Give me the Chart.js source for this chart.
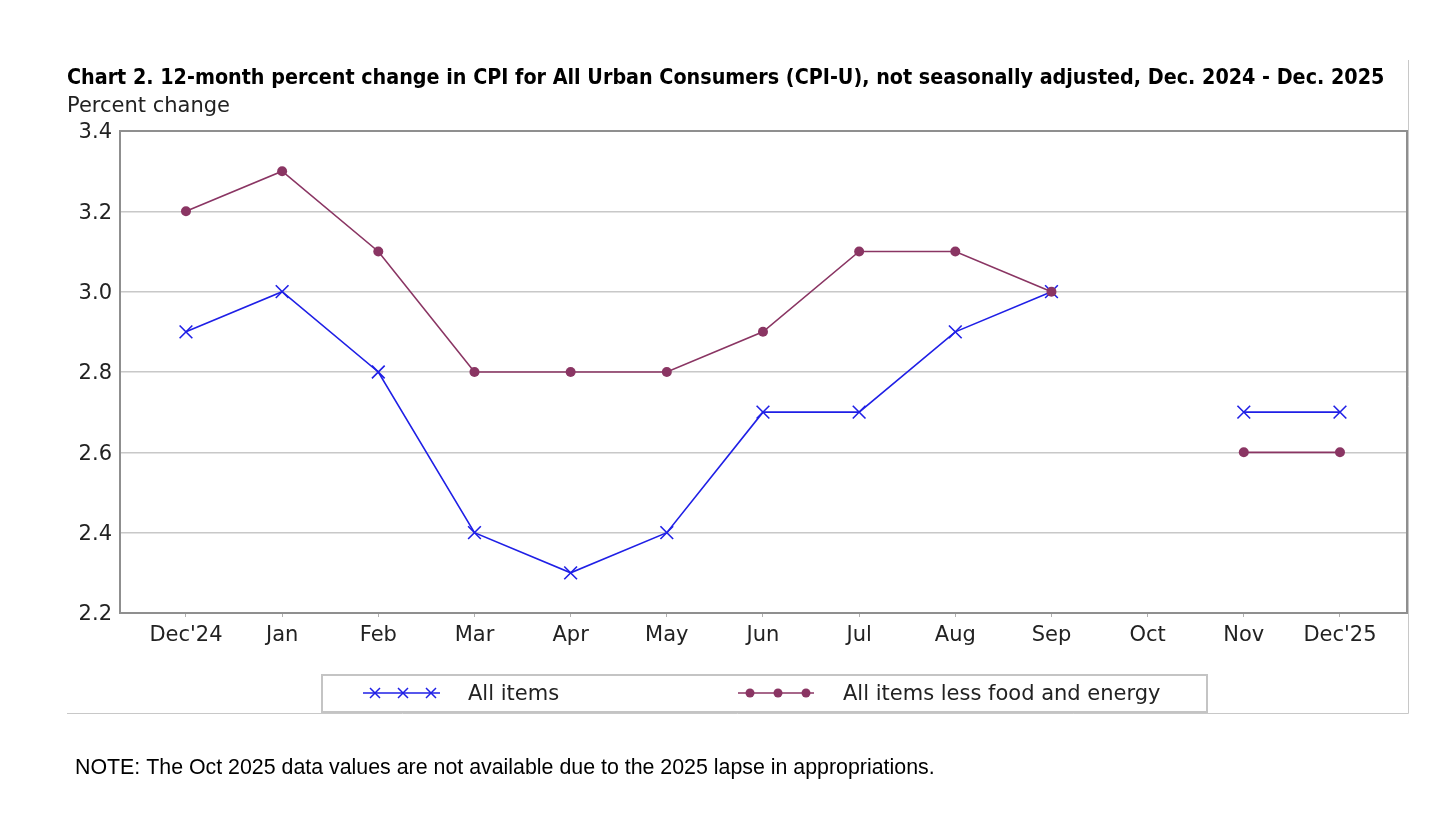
<!DOCTYPE html>
<html>
<head>
<meta charset="utf-8">
<script src="https://cdn.jsdelivr.net/npm/chart.js@4.4.1/dist/chart.umd.min.js"></script>
<style>
html,body{margin:0;padding:0;background:#fff;}
canvas{display:block;}
</style>
</head>
<body>
<canvas id="c" width="1449" height="840"></canvas>
<script>
const categories = ["Dec'24","Jan","Feb","Mar","Apr","May","Jun","Jul","Aug","Sep","Oct","Nov","Dec'25"];
const allItems   = [2.9, 3.0, 2.8, 2.4, 2.3, 2.4, 2.7, 2.7, 2.9, 3.0, null, 2.7, 2.7];
const coreItems  = [3.2, 3.3, 3.1, 2.8, 2.8, 2.8, 2.9, 3.1, 3.1, 3.0, null, 2.6, 2.6];
const yTicks     = [2.2, 2.4, 2.6, 2.8, 3.0, 3.2, 3.4];
const seriesNames = ["All items", "All items less food and energy"];
const titleText = "Chart 2. 12-month percent change in CPI for All Urban Consumers (CPI-U), not seasonally adjusted, Dec. 2024 - Dec. 2025";
const yTitleText = "Percent change";
const noteText = "NOTE: The Oct 2025 data values are not available due to the 2025 lapse in appropriations.";

const BLUE = '#1f1fe6';
const PURPLE = '#8a3563';
const TICK_FONT = '21px "DejaVu Sans"';

function fitFont(ctx, text, weight, family, target, start) {
  let s = start;
  ctx.font = `${weight} ${s}px ${family}`;
  const w = ctx.measureText(text).width;
  s = s * target / w;
  return `${weight} ${s.toFixed(2)}px ${family}`;
}

function drawCrossRot(ctx, x, y, r) {
  ctx.beginPath();
  ctx.moveTo(x - r, y - r); ctx.lineTo(x + r, y + r);
  ctx.moveTo(x - r, y + r); ctx.lineTo(x + r, y - r);
  ctx.stroke();
}

const decor = {
  id: 'decor',
  beforeDraw(chart) {
    const ctx = chart.ctx;
    ctx.save();
    ctx.fillStyle = '#fff';
    ctx.fillRect(0, 0, chart.width, chart.height);
    ctx.strokeStyle = '#c8c8c8';
    ctx.lineWidth = 1;
    ctx.beginPath();
    ctx.moveTo(1408.5, 60); ctx.lineTo(1408.5, 713.5); ctx.lineTo(67, 713.5);
    ctx.stroke();
    ctx.restore();
  },
  afterDraw(chart) {
    const ctx = chart.ctx;
    const a = chart.chartArea;
    ctx.save();
    // plot border
    ctx.strokeStyle = '#8f8f8f';
    ctx.lineWidth = 2;
    ctx.strokeRect(a.left, a.top, a.right - a.left, a.bottom - a.top);
    // title
    ctx.fillStyle = '#000';
    ctx.textBaseline = 'middle';
    ctx.textAlign = 'left';
    ctx.font = fitFont(ctx, titleText, 'bold', '"DejaVu Sans Condensed", "DejaVu Sans"', 1318, 20);
    ctx.fillText(titleText, 67, 78);
    // y title
    ctx.fillStyle = '#222';
    ctx.font = TICK_FONT;
    ctx.fillText(yTitleText, 67, 107);
    // legend box
    ctx.strokeStyle = '#c4c4c4';
    ctx.lineWidth = 2;
    ctx.strokeRect(322, 675, 885, 37);
    const ly = 693;
    // all items legend
    ctx.strokeStyle = BLUE; ctx.lineWidth = 1.5;
    ctx.beginPath(); ctx.moveTo(363, ly); ctx.lineTo(440, ly); ctx.stroke();
    [375, 403, 431].forEach(x => drawCrossRot(ctx, x, ly, 5));
    // core legend
    ctx.strokeStyle = PURPLE; ctx.fillStyle = PURPLE;
    ctx.beginPath(); ctx.moveTo(738, ly); ctx.lineTo(814, ly); ctx.stroke();
    [750, 778, 806].forEach(x => { ctx.beginPath(); ctx.arc(x, ly, 4.5, 0, Math.PI * 2); ctx.fill(); });
    ctx.fillStyle = '#222';
    ctx.font = TICK_FONT;
    ctx.fillText(seriesNames[0], 468, ly + 2);
    ctx.fillText(seriesNames[1], 843, ly + 2);
    // note
    ctx.fillStyle = '#000';
    ctx.font = fitFont(ctx, noteText, 'normal', '"Liberation Sans", Arial', 860, 20);
    ctx.fillText(noteText, 75, 768);
    ctx.restore();
  }
};

const toPts = arr => arr.map((v, i) => ({ x: i, y: v }));

new Chart(document.getElementById('c'), {
  type: 'line',
  data: {
    datasets: [
      {
        label: seriesNames[1],
        data: toPts(coreItems),
        borderColor: PURPLE,
        backgroundColor: PURPLE,
        borderWidth: 1.6,
        pointStyle: 'circle',
        pointRadius: 5,
        pointBorderWidth: 0,
        spanGaps: false,
        order: 0
      },
      {
        label: seriesNames[0],
        data: toPts(allItems),
        borderColor: BLUE,
        backgroundColor: BLUE,
        borderWidth: 1.6,
        pointStyle: 'crossRot',
        pointRadius: 9,
        pointBorderWidth: 1.6,
        spanGaps: false,
        order: 1
      }
    ]
  },
  options: {
    responsive: false,
    animation: false,
    devicePixelRatio: 1,
    layout: { padding: { left: 0, right: 42, top: 131, bottom: 187 } },
    plugins: { legend: { display: false }, title: { display: false }, tooltip: { enabled: false } },
    scales: {
      x: {
        type: 'linear',
        min: -0.686,
        max: 12.697,
        afterBuildTicks: s => { s.ticks = categories.map((c, i) => ({ value: i })); },
        afterFit: s => { s.height = 40; },
        ticks: {
          callback: v => categories[v],
          font: { family: 'DejaVu Sans', size: 21 },
          color: '#222',
          padding: 6,
          maxRotation: 0,
          autoSkip: false
        },
        grid: { drawOnChartArea: false, drawTicks: true, tickLength: 4, color: '#b0b0b0' },
        border: { display: false }
      },
      y: {
        min: 2.2,
        max: 3.4,
        afterBuildTicks: s => { s.ticks = yTicks.map(v => ({ value: v })); },
        afterFit: s => { s.width = 120; },
        ticks: {
          callback: v => v.toFixed(1),
          font: { family: 'DejaVu Sans', size: 21 },
          color: '#222',
          padding: 8,
          labelOffset: 2
        },
        grid: { color: '#c8c8c8', lineWidth: 1.5, drawTicks: false },
        border: { display: false }
      }
    }
  },
  plugins: [decor]
});
</script>
</body>
</html>
